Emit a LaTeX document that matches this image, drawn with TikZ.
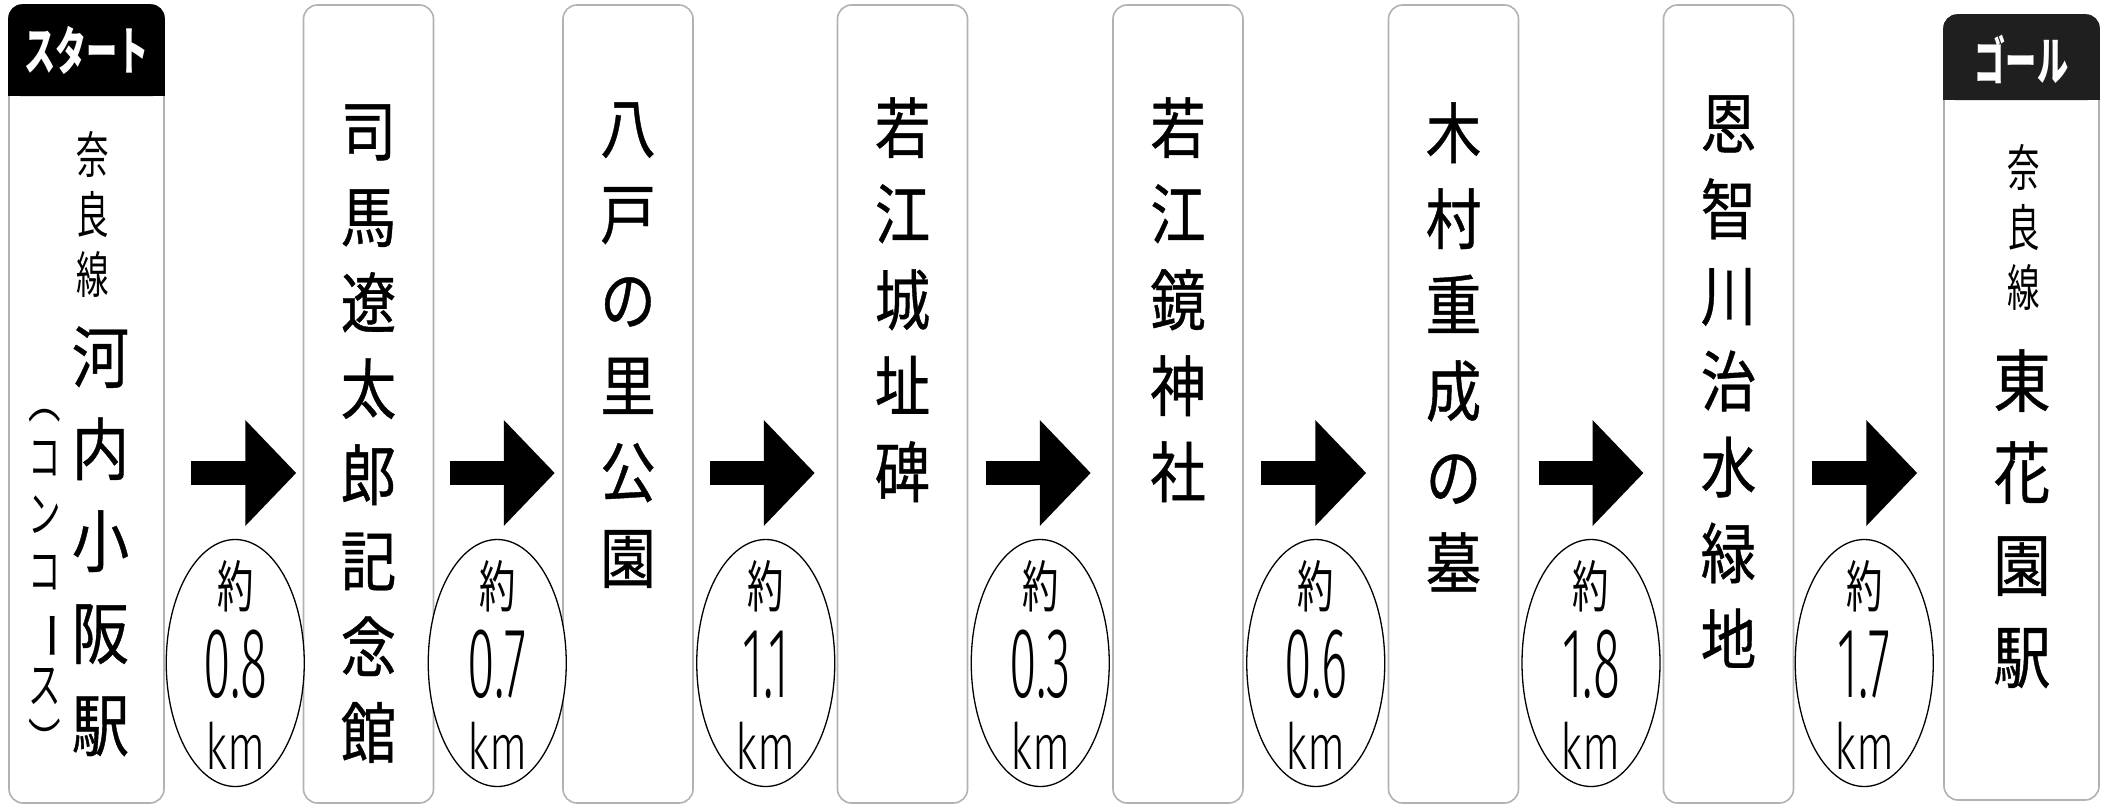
\documentclass[tikz,border=0pt]{standalone}
\usepackage{fontspec}
\setmainfont{Noto Sans CJK JP}
\newfontfamily\fBig[FakeStretch=0.84,FakeBold=0.6]{Noto Sans CJK JP}
\newfontfamily\fSmall[FakeStretch=0.65]{Noto Sans CJK JP}
\newfontfamily\fNum[FakeStretch=0.5]{Fira Sans Light}
\newfontfamily\fKm[FakeStretch=0.7]{Fira Sans Light}
\newfontfamily\fHead[FakeStretch=0.6]{Noto Sans CJK JP}
\usetikzlibrary{calc,shapes.geometric,arrows.meta}
\begin{document}
\begin{tikzpicture}[x=1pt,y=-1pt,
  box/.style={rectangle, draw=gray!60, line width=1.6pt, rounded corners=14pt, inner sep=0pt, minimum width=130pt, minimum height=798pt},
  endbox/.style={box, minimum width=155pt},
  header/.style={inner sep=0pt, text=white, font=\fHead\bfseries\fontsize{52}{52}\selectfont},
  bigname/.style={anchor=north, align=center, inner sep=0pt, font=\fBig\fontsize{66}{86}\selectfont},
  stname/.style={anchor=north, align=center, inner sep=0pt, font=\fBig\fontsize{68}{92}\selectfont},
  line/.style={anchor=north, align=center, inner sep=0pt, font=\fSmall\fontsize{50}{60}\selectfont},
  paren/.style={anchor=north, align=center, inner sep=0pt, font=\fSmall\fontsize{50}{57}\selectfont},
  bigarrow/.style={line width=24pt, -{Triangle[length=51pt,width=103pt]}},
  dist/.style={ellipse, draw=black, line width=1.3pt, fill=white, inner sep=0pt, minimum width=138pt, minimum height=247pt},
  yaku/.style={inner sep=0pt, font=\fSmall\fontsize{56}{56}\selectfont},
  num/.style={inner sep=0pt, anchor=base, font=\fNum\fontsize{100}{100}\selectfont},
  km/.style={inner sep=0pt, anchor=base, font=\fKm\fontsize{64}{64}\selectfont}
]
\useasboundingbox (0,0) rectangle (2110,807);
\fill[white] (0,0) rectangle (2110,807);

% boxes
\node[endbox] (b1) at (86.5,404) {};
\node[box] (b2) at (368.5,404) {};
\node[box] (b3) at (628,404) {};
\node[box] (b4) at (902.5,404) {};
\node[box] (b5) at (1178,404) {};
\node[box] (b6) at (1453.5,404) {};
\node[box] (b7) at (1728.5,404) {};
\node[endbox, minimum height=785pt] (b8) at (2021.5,407.5) {};

% headers
\fill[black, rounded corners=14pt] (b1.north west) rectangle ($(b1.north east)+(0,92)$);
\fill[black] ($(b1.north west)+(0,40)$) rectangle ($(b1.north east)+(0,92)$);
\fill[black!88, rounded corners=14pt] (b8.north west) rectangle ($(b8.north east)+(0,86)$);
\fill[black!88] ($(b8.north west)+(0,40)$) rectangle ($(b8.north east)+(0,86)$);
\node[header] (h1) at ($(b1.north)+(0,46)$) {スタート};
\node[header] (h8) at ($(b8.north)+(0,45)$) {ゴール};

% start station
\node[line] (n1a) at ($(b1.north)+(6.5,127)$) {奈\\良\\線};
\node[stname] (n1b) at ($(b1.north)+(14,322)$) {河\\内\\小\\阪\\駅};
\node[paren] (n1c) at ($(b1.north)+(-42,405)$) {︵\\コ\\ン\\コ\\\rotatebox[origin=c]{-90}{\scalebox{1.5}[1]{ー}}\\ス\\︶};

% goal station
\node[line] (n8a) at ($(b8.north)+(2.5,130)$) {奈\\良\\線};
\node[stname] (n8b) at ($(b8.north)+(0.5,335)$) {東\\花\\園\\駅};

% spots
\node[bigname] (n2) at ($(b2.north)+(0,100)$) {司\\馬\\遼\\太\\郎\\記\\念\\館};
\node[bigname] (n3) at ($(b3.north)+(0,98)$) {八\\戸\\の\\里\\公\\園};
\node[bigname] (n4) at ($(b4.north)+(0,93)$) {若\\江\\城\\址\\碑};
\node[bigname] (n5) at ($(b5.north)+(0,93)$) {若\\江\\鏡\\神\\社};
\node[bigname] (n6) at ($(b6.north)+(0,98)$) {木\\村\\重\\成\\の\\墓};
\node[bigname] (n7) at ($(b7.north)+(0,91)$) {恩\\智\\川\\治\\水\\緑\\地};

% gap midpoints and rows
\coordinate (ay) at (0,473);
\coordinate (ey) at (0,663);
\foreach \a/\b [count=\i] in {b1/b2,b2/b3,b3/b4,b4/b5,b5/b6,b6/b7,b7/b8}
  \coordinate (m\i) at ($(\a.east)!0.5!(\b.west)$);

% arrows
\foreach \i/\s/\e in {1/-42.5/62.5, 2/-48.5/56.5, 3/-55.5/49.5, 4/-54.5/50.5, 5/-54.5/50.5, 6/-52.5/52.5, 7/-56.5/48.5}
  \draw[bigarrow] ($(m\i|-ay)+(\s,0)$) -- ($(m\i|-ay)+(\e,0)$);

% distances
\foreach \i/\o/\v in {1/1.5/0.8, 2/-1/0.7, 3/0.5/1.1, 4/0/0.3, 5/0/0.6, 6/0/1.8, 7/-4.5/1.7} {
  \node[dist] (d\i) at ($(m\i|-ey)+(\o,0)$) {};
  \node[yaku] (y\i) at ($(d\i.center)+(0,-77)$) {約};
  \node[num] (v\i) at ($(d\i.center)+(0,34)$) {\v};
  \node[km] (k\i) at ($(d\i.center)+(0,106)$) {km};
}
\end{tikzpicture}
\end{document}
